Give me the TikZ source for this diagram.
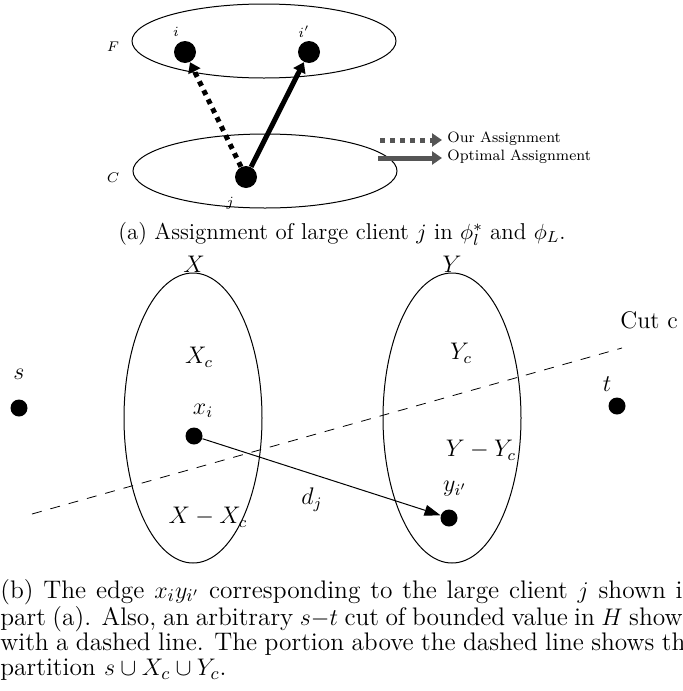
\documentclass[tikz,border=0pt]{standalone}
\usetikzlibrary{arrows.meta,shapes.geometric}
\definecolor{leggray}{RGB}{85,85,85}
\begin{document}
\begin{tikzpicture}[x=0.5pt,y=-0.5pt,
  setell/.style={draw, ellipse, inner sep=0pt, line width=0.5pt},
  bigdot/.style={circle, fill=black, inner sep=0pt, minimum size=11pt},
  smalldot/.style={circle, fill=black, inner sep=0pt, minimum size=8.5pt},
  smalllab/.style={inner sep=0pt, font=\fontsize{7.5}{9}\selectfont},
  leglab/.style={inner sep=0pt, font=\fontsize{7.5}{9}\selectfont},
  biglab/.style={inner sep=0pt, font=\large},
  capalab/.style={inner sep=0pt, font=\fontsize{11.45}{13}\selectfont},
  capblab/.style={inner sep=0pt, font=\fontsize{12.7}{12.5}\selectfont},
  thickarrow/.style={line width=2.5pt, -{Triangle[length=5pt,width=6.5pt]}},
  dotarrow/.style={thickarrow, dash pattern=on 2.5pt off 2.5pt},
  cutline/.style={line width=0.4pt, dash pattern=on 5pt off 4.5pt},
  edgearrow/.style={line width=0.5pt, -{Triangle[length=8pt,width=5.5pt]}}
]
\useasboundingbox (0,0) rectangle (683,691);

% ---------- part (a) ----------
\node[setell, minimum width=132pt, minimum height=37pt] (F) at (264,41) {};
\node[setell, minimum width=132pt, minimum height=37pt] (C) at (265,171) {};
\node[smalllab] (Flab) at (113,47) {$F$};
\node[smalllab] (Clab) at (113,178) {$C$};

\node[bigdot] (i) at (185,52) {};
\node[bigdot] (ip) at (309,52) {};
\node[bigdot] (j) at (246,177) {};
\node[smalllab] (ilab) at (176,32) {$i$};
\node[smalllab] (iplab) at (304,32) {$i'$};
\node[smalllab] (jlab) at (230,203) {$j$};

\draw[dotarrow] (j) -- (i);
\draw[thickarrow] (j) -- (ip);

\coordinate (l1a) at (380,140);
\coordinate (l1b) at (442,140);
\coordinate (l2a) at (378,158);
\coordinate (l2b) at (442,158);
\draw[dotarrow, leggray] (l1a) -- (l1b);
\draw[thickarrow, leggray] (l2a) -- (l2b);
\node[leglab, anchor=west] (ours) at (447,139) {Our Assignment};
\node[leglab, anchor=west] (opt) at (447,157) {Optimal Assignment};

\node[capalab, anchor=base] (capa) at (342,239)
  {(a) Assignment of large client $j$ in $\phi_l^*$ and $\phi_L$.};

% ---------- part (b) ----------
\node[setell, minimum width=69pt, minimum height=145pt] (X) at (193,418) {};
\node[setell, minimum width=69pt, minimum height=145pt] (Y) at (452,418) {};
\node[biglab] (Xlab) at (194,264) {$X$};
\node[biglab] (Ylab) at (452,264) {$Y$};

\node[smalldot] (s) at (19,408) {};
\node[smalldot] (t) at (617,406) {};
\node[biglab] (slab) at (19,374) {$s$};
\node[biglab] (tlab) at (607,384) {$t$};

\node[biglab] (Xc) at (199,357) {$X_c$};
\node[biglab] (Yc) at (461,353) {$Y_c$};
\node[biglab] (YmYc) at (481,450) {$Y-Y_c$};
\node[biglab] (XmXc) at (208,517) {$X-X_c$};

\node[smalldot] (xi) at (194,436) {};
\node[smalldot] (yi) at (449,518) {};
\node[biglab] (xilab) at (203,411) {$x_i$};
\node[biglab] (yilab) at (455,489) {$y_{i'}$};
\node[biglab] (dj) at (312,500) {$d_j$};

\draw[edgearrow] (xi) -- (yi);

\coordinate (cut1) at (32,514);
\coordinate (cut2) at (622,348);
\draw[cutline] (cut1) -- (cut2);
\node[biglab, anchor=west] (cutlab) at (620,320) {Cut c};

\node[capblab, anchor=base west] (capb) at (0,598)
  {\parbox[t]{348pt}{\fontsize{12.7}{12.5}\selectfont (b) The edge $x_iy_{i'}$ corresponding to the large client $j$ shown in\linebreak
   part (a). Also, an arbitrary $s{-}t$ cut of bounded value in $H$ shown\linebreak
   with a dashed line. The portion above the dashed line shows the\linebreak
   partition $s\cup X_c\cup Y_c$.}};
\end{tikzpicture}
\end{document}
